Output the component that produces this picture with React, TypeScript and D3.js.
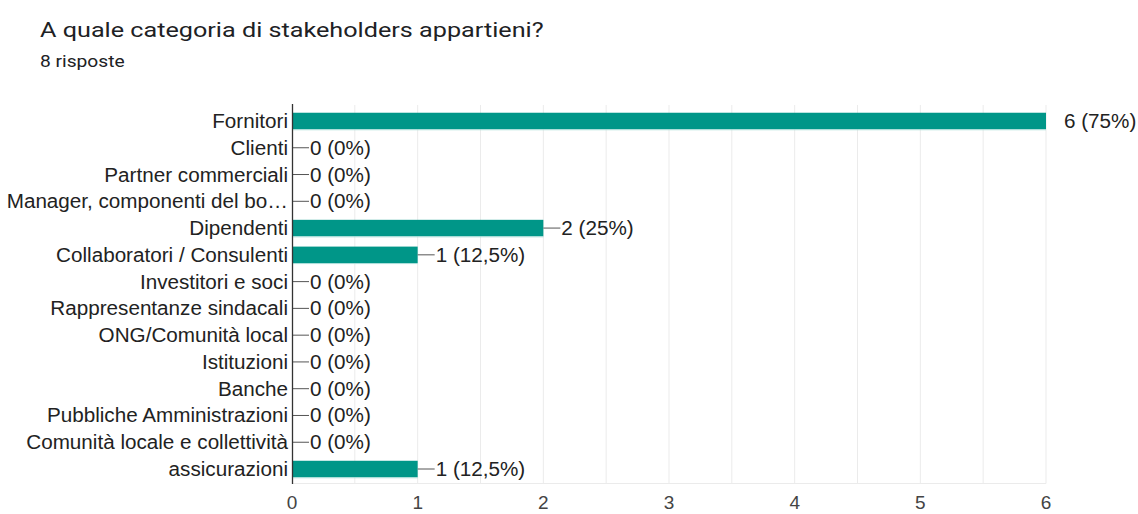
import React from "react";
import * as d3 from "d3";

const categories = [
  "Fornitori",
  "Clienti",
  "Partner commerciali",
  "Manager, componenti del bo…",
  "Dipendenti",
  "Collaboratori / Consulenti",
  "Investitori e soci",
  "Rappresentanze sindacali",
  "ONG/Comunità local",
  "Istituzioni",
  "Banche",
  "Pubbliche Amministrazioni",
  "Comunità locale e collettività",
  "assicurazioni",
];
const counts = [6, 0, 0, 0, 2, 1, 0, 0, 0, 0, 0, 0, 0, 1];
const percents = ["75%", "0%", "0%", "0%", "25%", "12,5%", "0%", "0%", "0%", "0%", "0%", "0%", "0%", "12,5%"];
const xTicks = [0, 1, 2, 3, 4, 5, 6];
const gridValues = [0.5, 1, 1.5, 2, 2.5, 3, 3.5, 4, 4.5, 5, 5.5, 6];

const W = 1138;
const H = 514;
const left = 292;
const right = 1046;
const top = 107.6;
const bottom = 482.4;

function SText({
  x,
  y,
  sx,
  anchor,
  family,
  size,
  fill,
  children,
}: {
  x: number;
  y: number;
  sx: number;
  anchor?: string;
  family: string;
  size: number;
  fill: string;
  children: React.ReactNode;
}) {
  return (
    <text
      transform={`translate(${x},${y}) scale(${sx},1)`}
      textAnchor={anchor || "start"}
      fontFamily={family}
      fontSize={size}
      fill={fill}
    >
      {children}
    </text>
  );
}

export default function App() {
  const x = d3.scaleLinear().domain([0, 6]).range([left, right]);
  const y = d3
    .scaleBand<string>()
    .domain(categories)
    .range([top, bottom])
    .paddingInner(0.4)
    .paddingOuter(0.2);
  const bh = 16.5;
  const roboto = "Roboto, 'Liberation Sans', Arial, sans-serif";
  const arial = "'Liberation Sans', Arial, sans-serif";
  const lblSize = 19.5;
  const lblSx = 1.06;

  return (
    <svg
      width={W}
      height={H}
      style={{ position: "absolute", left: 0, top: 0, background: "#fff" }}
    >
      <SText x={40} y={37} sx={1.2} family={roboto} size={21} fill="#202124">
        A quale categoria di stakeholders appartieni?
      </SText>
      <SText x={40} y={67} sx={1.2} family={roboto} size={16} fill="#202124">
        8 risposte
      </SText>

      {gridValues.map((v) => (
        <line
          key={"g" + v}
          x1={x(v)}
          x2={x(v)}
          y1={105}
          y2={483.5}
          stroke="#ebebeb"
          strokeWidth={1}
        />
      ))}
      <line x1={left} x2={right} y1={483.5} y2={483.5} stroke="#ebebeb" strokeWidth={1} />

      {categories.map((c, i) => {
        const cy = (y(c) as number) + y.bandwidth() / 2;
        const v = counts[i];
        const label = `${v} (${percents[i]})`;
        const bx = x(v);
        const isMax = v === 6;
        return (
          <g key={c}>
            {v > 0 && (
              <>
                <rect x={left} y={cy - bh / 2} width={bx - left} height={bh} fill="#009688" />
                <line
                  x1={left}
                  x2={bx}
                  y1={cy + bh / 2 + 0.5}
                  y2={cy + bh / 2 + 0.5}
                  stroke="#a6dcd6"
                  strokeWidth={1}
                />
              </>
            )}
            {!isMax && (
              <line x1={bx} x2={bx + 17} y1={cy} y2={cy} stroke="#555" strokeWidth={1} />
            )}
            <SText
              x={bx + 18}
              y={cy + 7}
              sx={lblSx}
              family={arial}
              size={lblSize}
              fill="#222"
            >
              {label}
            </SText>
            <SText
              x={left - 4}
              y={cy + 7}
              sx={lblSx}
              anchor="end"
              family={arial}
              size={lblSize}
              fill="#222"
            >
              {c}
            </SText>
          </g>
        );
      })}

      <line x1={left + 0.5} x2={left + 0.5} y1={104} y2={484} stroke="#333" strokeWidth={1.3} />

      {xTicks.map((t) => (
        <SText
          key={"t" + t}
          x={x(t)}
          y={509}
          sx={1}
          anchor="middle"
          family={arial}
          size={19}
          fill="#444"
        >
          {t}
        </SText>
      ))}
    </svg>
  );
}
